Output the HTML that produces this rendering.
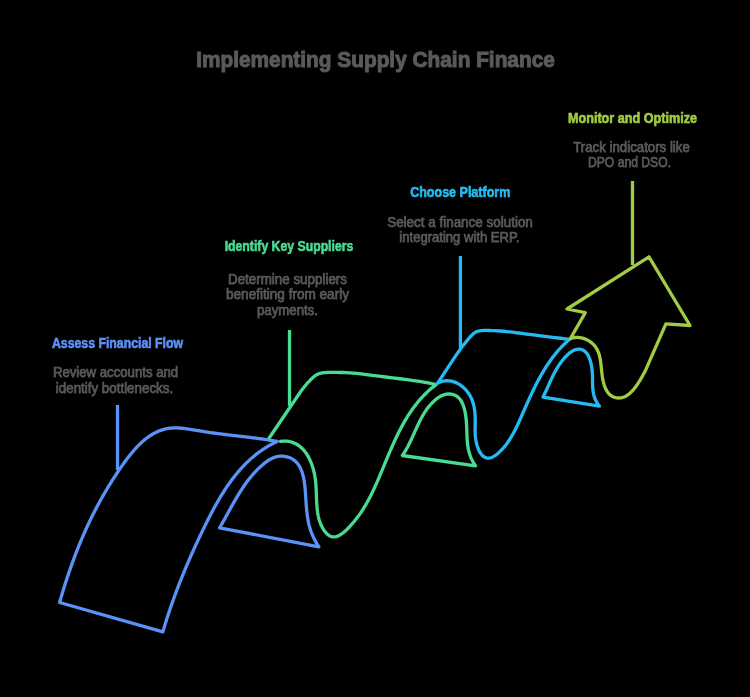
<!DOCTYPE html>
<html><head><meta charset="utf-8"><style>
html,body{margin:0;padding:0;background:#000;width:750px;height:697px;overflow:hidden}
svg{display:block;will-change:transform}
text{font-family:"Liberation Sans",sans-serif;text-anchor:middle}
</style></head><body>
<svg width="750" height="697" viewBox="0 0 750 697">
<rect width="750" height="697" fill="#000"/>
<g fill="none" stroke-width="3.3" stroke-linejoin="round" stroke-linecap="round">
<path stroke="#5b92f7" stroke-linecap="butt" d="M117.5 405 V470"/>
<path stroke="#5b92f7" d="M277.30 441.40 L275.69 441.12 L274.09 440.85 L272.50 440.59 L270.92 440.34 L269.35 440.10 L267.80 439.86 L266.25 439.62 L264.72 439.40 L263.19 439.18 L261.67 438.96 L260.16 438.75 L258.66 438.55 L257.16 438.35 L255.67 438.16 L254.19 437.96 L252.71 437.78 L251.24 437.59 L249.78 437.41 L248.32 437.23 L246.86 437.06 L245.40 436.89 L243.95 436.71 L242.51 436.54 L241.06 436.38 L239.62 436.21 L238.17 436.04 L236.73 435.87 L235.29 435.71 L233.85 435.54 L232.41 435.37 L230.96 435.20 L229.52 435.03 L228.07 434.86 L226.63 434.69 L225.18 434.51 L223.72 434.33 L222.26 434.15 L220.80 433.97 L219.34 433.78 L217.86 433.59 L216.39 433.39 L214.90 433.19 L213.41 432.99 L211.92 432.78 L210.42 432.56 L208.90 432.34 L207.38 432.11 L205.86 431.88 L204.32 431.64 L202.77 431.39 L201.22 431.13 L199.65 430.87 L198.07 430.60 L196.49 430.33 L194.90 430.06 L193.30 429.79 L191.70 429.53 L190.10 429.28 L188.50 429.04 L186.90 428.81 L185.30 428.60 L183.71 428.42 L182.12 428.26 L180.55 428.12 L178.98 428.02 L177.43 427.95 L175.88 427.92 L174.36 427.93 L172.85 427.98 L171.36 428.08 L169.88 428.22 L168.43 428.42 L167.00 428.66 L165.59 428.95 L164.20 429.29 L162.82 429.68 L161.47 430.10 L160.13 430.57 L158.81 431.08 L157.51 431.64 L156.22 432.23 L154.96 432.86 L153.71 433.53 L152.47 434.23 L151.26 434.97 L150.05 435.74 L148.87 436.55 L147.70 437.38 L146.54 438.25 L145.40 439.15 L144.27 440.07 L143.15 441.03 L142.05 442.01 L140.96 443.01 L139.89 444.04 L138.83 445.09 L137.78 446.16 L136.74 447.25 L135.71 448.37 L134.69 449.50 L133.69 450.64 L132.69 451.81 L131.71 452.99 L130.74 454.18 L129.77 455.38 L128.82 456.60 L127.87 457.83 L126.93 459.06 L126.00 460.31 L125.08 461.56 L124.17 462.82 L123.26 464.08 L122.36 465.35 L121.47 466.62 L120.58 467.89 L119.70 469.16 L118.83 470.44 L117.96 471.72 L117.10 473.00 L116.25 474.28 L115.40 475.56 L114.56 476.85 L113.72 478.14 L112.89 479.43 L112.07 480.72 L111.25 482.02 L110.44 483.32 L109.64 484.62 L108.84 485.92 L108.04 487.22 L107.26 488.53 L106.48 489.83 L105.70 491.14 L104.93 492.46 L104.17 493.77 L103.41 495.09 L102.66 496.40 L101.91 497.72 L101.17 499.05 L100.44 500.37 L99.71 501.70 L98.98 503.03 L98.27 504.36 L97.55 505.69 L96.85 507.03 L96.14 508.36 L95.45 509.70 L94.76 511.04 L94.07 512.39 L93.39 513.73 L92.71 515.08 L92.04 516.43 L91.38 517.78 L90.72 519.13 L90.06 520.49 L89.41 521.84 L88.77 523.20 L88.13 524.57 L87.50 525.93 L86.87 527.29 L86.24 528.66 L85.62 530.03 L85.01 531.40 L84.40 532.78 L83.79 534.15 L83.19 535.53 L82.59 536.91 L82.00 538.29 L81.41 539.68 L80.83 541.06 L80.25 542.45 L79.68 543.84 L79.11 545.23 L78.55 546.62 L77.99 548.02 L77.43 549.42 L76.88 550.82 L76.33 552.22 L75.79 553.62 L75.25 555.03 L74.71 556.44 L74.18 557.85 L73.66 559.26 L73.14 560.67 L72.62 562.09 L72.10 563.50 L71.59 564.92 L71.09 566.34 L70.58 567.77 L70.09 569.19 L69.59 570.62 L69.10 572.05 L68.61 573.48 L68.13 574.91 L67.65 576.35 L67.17 577.78 L66.70 579.22 L66.23 580.66 L65.77 582.10 L65.30 583.55 L64.84 585.00 L64.39 586.44 L63.94 587.89 L63.49 589.35 L63.04 590.80 L62.60 592.26 L62.16 593.71 L61.73 595.17 L61.30 596.63 L60.87 598.10 L60.44 599.56 L60.02 601.03 L59.60 602.50 L162.90 631.80 L163.32 630.35 L163.75 628.90 L164.18 627.46 L164.62 626.01 L165.06 624.56 L165.51 623.12 L165.95 621.68 L166.41 620.24 L166.86 618.80 L167.33 617.36 L167.79 615.92 L168.26 614.48 L168.73 613.05 L169.21 611.61 L169.69 610.18 L170.17 608.75 L170.66 607.32 L171.16 605.89 L171.65 604.46 L172.15 603.03 L172.66 601.60 L173.16 600.17 L173.68 598.75 L174.19 597.33 L174.71 595.90 L175.23 594.48 L175.76 593.06 L176.29 591.64 L176.82 590.22 L177.36 588.80 L177.90 587.38 L178.44 585.97 L178.99 584.55 L179.54 583.14 L180.10 581.72 L180.66 580.31 L181.22 578.90 L181.78 577.49 L182.35 576.08 L182.93 574.67 L183.50 573.26 L184.08 571.85 L184.66 570.45 L185.25 569.04 L185.84 567.64 L186.43 566.23 L187.02 564.83 L187.62 563.43 L188.22 562.03 L188.83 560.63 L189.44 559.23 L190.05 557.83 L190.66 556.43 L191.28 555.03 L191.90 553.64 L192.52 552.24 L193.15 550.85 L193.78 549.45 L194.41 548.06 L195.05 546.67 L195.69 545.28 L196.33 543.88 L196.97 542.49 L197.62 541.10 L198.27 539.71 L198.92 538.33 L199.58 536.94 L200.24 535.55 L200.90 534.17 L201.56 532.78 L202.23 531.40 L202.90 530.01 L203.57 528.63 L204.25 527.24 L204.92 525.86 L205.60 524.48 L206.29 523.10 L206.98 521.72 L207.67 520.35 L208.36 518.97 L209.06 517.60 L209.76 516.23 L210.47 514.87 L211.18 513.50 L211.90 512.14 L212.62 510.78 L213.35 509.43 L214.08 508.08 L214.82 506.73 L215.56 505.39 L216.31 504.05 L217.06 502.72 L217.82 501.40 L218.59 500.07 L219.36 498.76 L220.14 497.45 L220.93 496.14 L221.72 494.84 L222.52 493.55 L223.33 492.26 L224.15 490.98 L224.97 489.71 L225.80 488.45 L226.65 487.19 L227.49 485.94 L228.35 484.70 L229.22 483.46 L230.09 482.24 L230.98 481.02 L231.87 479.81 L232.77 478.61 L233.68 477.43 L234.61 476.25 L235.54 475.08 L236.48 473.92 L237.43 472.77 L238.40 471.63 L239.37 470.50 L240.35 469.38 L241.35 468.27 L242.36 467.18 L243.38 466.10 L244.41 465.02 L245.45 463.96 L246.50 462.92 L247.57 461.88 L248.65 460.86 L249.74 459.85 L250.84 458.86 L251.96 457.87 L253.09 456.90 L254.23 455.95 L255.39 455.01 L256.56 454.08 L257.75 453.17 L258.94 452.27 L260.16 451.39 L261.38 450.53 L262.63 449.67 L263.88 448.84 L265.15 448.02 L266.44 447.22 L267.74 446.43 L269.06 445.66 L270.39 444.91 L271.74 444.17 L273.11 443.45 L274.49 442.75 L275.89 442.06 L277.30 441.40 Z"/>
<path stroke="#5b92f7" d="M219.60 527.80 L318.90 546.80 L317.96 545.38 L317.06 543.97 L316.22 542.57 L315.42 541.18 L314.67 539.78 L313.96 538.40 L313.30 537.01 L312.67 535.63 L312.09 534.25 L311.54 532.87 L311.03 531.49 L310.56 530.12 L310.12 528.74 L309.71 527.35 L309.33 525.97 L308.97 524.58 L308.65 523.19 L308.35 521.79 L308.08 520.38 L307.82 518.97 L307.59 517.55 L307.38 516.12 L307.19 514.69 L307.01 513.24 L306.85 511.78 L306.70 510.31 L306.56 508.83 L306.43 507.33 L306.31 505.83 L306.19 504.30 L306.09 502.76 L305.98 501.21 L305.88 499.63 L305.78 498.04 L305.68 496.43 L305.57 494.81 L305.46 493.17 L305.34 491.52 L305.21 489.87 L305.06 488.22 L304.89 486.57 L304.71 484.92 L304.50 483.29 L304.27 481.67 L304.00 480.07 L303.71 478.48 L303.38 476.93 L303.01 475.40 L302.60 473.90 L302.15 472.44 L301.66 471.02 L301.11 469.64 L300.51 468.31 L299.86 467.03 L299.16 465.80 L298.39 464.63 L297.56 463.52 L296.66 462.48 L295.70 461.51 L294.66 460.61 L293.55 459.78 L292.37 459.04 L291.13 458.37 L289.84 457.79 L288.49 457.30 L287.11 456.89 L285.70 456.57 L284.26 456.34 L282.80 456.20 L281.33 456.16 L279.86 456.22 L278.39 456.38 L276.93 456.63 L275.50 457.00 L274.08 457.46 L272.69 458.02 L271.33 458.67 L269.98 459.39 L268.67 460.18 L267.37 461.04 L266.10 461.95 L264.85 462.91 L263.62 463.90 L262.42 464.92 L261.24 465.96 L260.08 467.02 L258.95 468.10 L257.83 469.19 L256.74 470.29 L255.66 471.41 L254.61 472.55 L253.57 473.69 L252.56 474.85 L251.56 476.02 L250.57 477.21 L249.61 478.40 L248.66 479.61 L247.72 480.83 L246.81 482.05 L245.90 483.29 L245.01 484.53 L244.13 485.79 L243.27 487.05 L242.41 488.32 L241.57 489.60 L240.74 490.89 L239.92 492.18 L239.11 493.47 L238.31 494.78 L237.52 496.08 L236.73 497.40 L235.95 498.71 L235.18 500.03 L234.42 501.36 L233.66 502.68 L232.91 504.01 L232.16 505.34 L231.42 506.67 L230.68 508.01 L229.94 509.34 L229.20 510.67 L228.47 512.01 L227.74 513.34 L227.01 514.67 L226.28 516.00 L225.54 517.32 L224.81 518.65 L224.08 519.97 L223.34 521.29 L222.60 522.60 L221.86 523.91 L221.11 525.21 L220.36 526.51 L219.60 527.80 Z"/>
<path stroke="#4adb92" stroke-linecap="butt" d="M289.5 330 V406"/>
<path stroke="#4adb92" d="M269.20 438.00 L296.30 398.00 L296.64 397.50 L297.31 396.50 L298.32 395.00 L299.68 393.00 L301.10 391.00 L302.60 389.00 L304.18 387.00 L305.82 385.00 L307.40 383.17 L308.90 381.51 L310.32 380.01 L311.68 378.69 L312.94 377.52 L314.11 376.52 L315.20 375.69 L316.20 375.01 L317.20 374.44 L318.20 373.98 L319.20 373.62 L320.20 373.38 L321.16 373.16 L322.07 372.97 L322.94 372.81 L323.76 372.69 L325.01 372.59 L326.67 372.51 L328.75 372.46 L331.25 372.44 L333.91 372.43 L336.74 372.44 L339.73 372.48 L342.88 372.52 L346.16 372.65 L349.57 372.85 L353.11 373.12 L356.79 373.47 L361.19 373.95 L366.33 374.55 L372.20 375.28 L378.80 376.12 L385.58 376.99 L392.54 377.86 L399.69 378.75 L407.01 379.65 L413.65 380.54 L419.60 381.43 L424.86 382.31 L429.44 383.19 L432.87 383.84 L435.16 384.28 L436.30 384.50 L435.06 385.44 L433.83 386.39 L432.63 387.35 L431.44 388.34 L430.28 389.33 L429.13 390.34 L428.00 391.37 L426.90 392.41 L425.80 393.46 L424.73 394.53 L423.67 395.61 L422.63 396.70 L421.61 397.81 L420.60 398.92 L419.61 400.05 L418.64 401.19 L417.68 402.35 L416.74 403.51 L415.81 404.69 L414.89 405.87 L413.99 407.07 L413.10 408.28 L412.23 409.49 L411.37 410.72 L410.52 411.96 L409.69 413.20 L408.87 414.46 L408.06 415.72 L407.26 417.00 L406.47 418.28 L405.70 419.56 L404.93 420.86 L404.18 422.16 L403.44 423.48 L402.70 424.79 L401.98 426.12 L401.26 427.45 L400.56 428.79 L399.86 430.13 L399.17 431.48 L398.49 432.83 L397.81 434.19 L397.15 435.56 L396.49 436.93 L395.83 438.30 L395.19 439.68 L394.55 441.06 L393.91 442.45 L393.28 443.84 L392.66 445.23 L392.04 446.62 L391.43 448.02 L390.82 449.42 L390.21 450.82 L389.61 452.22 L389.01 453.63 L388.42 455.04 L387.82 456.44 L387.23 457.85 L386.64 459.26 L386.06 460.67 L385.47 462.08 L384.89 463.49 L384.30 464.90 L383.72 466.30 L383.14 467.71 L382.56 469.12 L381.97 470.52 L381.39 471.92 L380.80 473.32 L380.22 474.72 L379.63 476.12 L379.04 477.51 L378.45 478.90 L377.85 480.29 L377.25 481.67 L376.64 483.05 L376.03 484.43 L375.41 485.80 L374.79 487.17 L374.16 488.54 L373.52 489.90 L372.88 491.26 L372.22 492.62 L371.56 493.97 L370.89 495.31 L370.21 496.65 L369.51 497.99 L368.81 499.32 L368.09 500.65 L367.36 501.97 L366.62 503.28 L365.86 504.59 L365.09 505.90 L364.30 507.20 L363.50 508.49 L362.68 509.78 L361.85 511.06 L361.00 512.33 L360.13 513.60 L359.25 514.86 L358.34 516.11 L357.42 517.36 L356.48 518.60 L355.51 519.83 L354.53 521.06 L353.52 522.27 L352.49 523.48 L351.44 524.69 L350.37 525.88 L349.27 527.07 L348.15 528.23 L347.01 529.37 L345.85 530.48 L344.68 531.53 L343.50 532.52 L342.31 533.44 L341.12 534.27 L339.91 535.02 L338.71 535.65 L337.51 536.18 L336.31 536.57 L335.12 536.83 L333.94 536.94 L332.77 536.89 L331.61 536.67 L330.47 536.27 L329.35 535.68 L328.25 534.93 L327.18 534.01 L326.15 532.97 L325.16 531.80 L324.22 530.53 L323.33 529.18 L322.50 527.76 L321.73 526.30 L321.03 524.81 L320.40 523.30 L319.84 521.77 L319.34 520.23 L318.90 518.69 L318.51 517.13 L318.18 515.57 L317.89 514.01 L317.63 512.45 L317.42 510.89 L317.24 509.33 L317.08 507.78 L316.95 506.23 L316.84 504.70 L316.74 503.18 L316.66 501.67 L316.58 500.17 L316.52 498.67 L316.46 497.18 L316.41 495.69 L316.36 494.21 L316.30 492.74 L316.24 491.26 L316.18 489.79 L316.10 488.32 L316.02 486.85 L315.92 485.37 L315.80 483.90 L315.67 482.42 L315.51 480.94 L315.32 479.45 L315.12 477.96 L314.88 476.46 L314.61 474.95 L314.30 473.44 L313.97 471.92 L313.60 470.41 L313.20 468.91 L312.76 467.41 L312.28 465.92 L311.78 464.44 L311.23 462.99 L310.65 461.55 L310.02 460.13 L309.37 458.75 L308.67 457.39 L307.93 456.06 L307.15 454.77 L306.33 453.52 L305.47 452.31 L304.57 451.14 L303.63 450.02 L302.64 448.96 L301.61 447.94 L300.53 446.99 L299.41 446.09 L298.25 445.26 L297.04 444.49 L295.78 443.79 L294.47 443.17 L293.12 442.62 L291.72 442.14 L290.27 441.75 L288.77 441.45 L287.22 441.23 L285.61 441.10 L283.96 441.07 L282.26 441.14 L280.50 441.30"/>
<path stroke="#4adb92" d="M402.30 455.50 L475.50 465.80 L474.54 464.39 L473.65 462.98 L472.84 461.57 L472.09 460.16 L471.42 458.75 L470.81 457.33 L470.26 455.92 L469.76 454.51 L469.32 453.09 L468.93 451.67 L468.59 450.25 L468.29 448.83 L468.03 447.40 L467.81 445.96 L467.62 444.52 L467.46 443.08 L467.32 441.62 L467.21 440.17 L467.12 438.70 L467.04 437.23 L466.97 435.74 L466.92 434.25 L466.86 432.75 L466.81 431.25 L466.76 429.73 L466.71 428.20 L466.64 426.65 L466.57 425.10 L466.47 423.54 L466.36 421.96 L466.23 420.37 L466.07 418.76 L465.89 417.15 L465.67 415.52 L465.41 413.88 L465.11 412.26 L464.78 410.65 L464.39 409.06 L463.96 407.51 L463.47 406.00 L462.92 404.54 L462.32 403.14 L461.65 401.82 L460.91 400.56 L460.11 399.40 L459.23 398.33 L458.27 397.37 L457.23 396.52 L456.11 395.79 L454.91 395.19 L453.65 394.70 L452.34 394.35 L450.98 394.11 L449.60 394.00 L448.19 394.01 L446.77 394.15 L445.35 394.41 L443.95 394.80 L442.56 395.30 L441.20 395.93 L439.87 396.65 L438.56 397.47 L437.29 398.36 L436.05 399.32 L434.85 400.34 L433.68 401.39 L432.56 402.48 L431.48 403.60 L430.43 404.75 L429.42 405.92 L428.45 407.12 L427.51 408.34 L426.60 409.59 L425.72 410.85 L424.87 412.14 L424.04 413.44 L423.24 414.76 L422.46 416.10 L421.71 417.45 L420.97 418.82 L420.25 420.19 L419.55 421.58 L418.86 422.97 L418.18 424.37 L417.52 425.78 L416.86 427.19 L416.21 428.61 L415.57 430.02 L414.93 431.44 L414.30 432.86 L413.67 434.27 L413.03 435.69 L412.40 437.09 L411.76 438.49 L411.11 439.89 L410.46 441.27 L409.79 442.64 L409.12 444.00 L408.43 445.35 L407.74 446.69 L407.02 448.00 L406.29 449.30 L405.53 450.59 L404.76 451.85 L403.97 453.09 L403.15 454.31 L402.30 455.50 Z"/>
<path stroke="#25bbf2" stroke-linecap="butt" d="M460.4 256 V348"/>
<path stroke="#25bbf2" d="M437.50 383.30 L455.80 355.60 L456.15 355.10 L456.85 354.10 L457.90 352.60 L459.30 350.60 L460.75 348.60 L462.25 346.60 L463.80 344.60 L465.40 342.60 L466.80 340.88 L468.00 339.43 L469.00 338.25 L469.80 337.35 L470.60 336.47 L471.40 335.62 L472.20 334.80 L473.00 334.00 L473.85 333.29 L474.75 332.66 L475.70 332.12 L476.70 331.67 L477.69 331.31 L478.66 331.02 L479.62 330.81 L480.58 330.69 L481.60 330.59 L482.70 330.51 L483.88 330.46 L485.12 330.44 L486.81 330.44 L488.94 330.48 L491.50 330.55 L494.50 330.65 L497.50 330.80 L500.50 331.00 L503.50 331.25 L506.50 331.55 L509.50 331.88 L512.50 332.22 L515.50 332.60 L518.50 333.00 L522.18 333.48 L526.54 334.04 L531.59 334.69 L537.31 335.41 L543.07 336.13 L548.88 336.84 L554.71 337.55 L560.59 338.25 L564.99 338.78 L567.93 339.12 L569.40 339.30 L568.24 340.33 L567.10 341.37 L565.97 342.43 L564.87 343.49 L563.78 344.57 L562.71 345.66 L561.65 346.76 L560.62 347.87 L559.60 348.99 L558.59 350.12 L557.61 351.26 L556.63 352.41 L555.68 353.57 L554.73 354.75 L553.80 355.93 L552.89 357.12 L551.99 358.32 L551.10 359.52 L550.23 360.74 L549.37 361.97 L548.52 363.20 L547.69 364.44 L546.86 365.69 L546.05 366.95 L545.25 368.22 L544.46 369.49 L543.68 370.77 L542.91 372.06 L542.15 373.35 L541.39 374.65 L540.65 375.96 L539.92 377.27 L539.20 378.59 L538.48 379.92 L537.77 381.25 L537.07 382.59 L536.38 383.93 L535.69 385.28 L535.01 386.63 L534.34 387.99 L533.67 389.35 L533.00 390.72 L532.35 392.09 L531.69 393.47 L531.04 394.85 L530.40 396.23 L529.76 397.62 L529.12 399.01 L528.49 400.40 L527.86 401.80 L527.23 403.20 L526.60 404.60 L525.98 406.01 L525.35 407.41 L524.73 408.82 L524.11 410.23 L523.49 411.65 L522.87 413.06 L522.25 414.48 L521.63 415.89 L521.00 417.31 L520.38 418.73 L519.75 420.14 L519.11 421.55 L518.47 422.96 L517.82 424.36 L517.16 425.76 L516.49 427.15 L515.81 428.54 L515.12 429.91 L514.42 431.28 L513.70 432.63 L512.96 433.98 L512.21 435.31 L511.44 436.63 L510.65 437.94 L509.84 439.23 L509.01 440.50 L508.15 441.76 L507.27 443.00 L506.37 444.23 L505.44 445.43 L504.48 446.61 L503.50 447.77 L502.48 448.91 L501.44 450.02 L500.36 451.11 L499.25 452.18 L498.10 453.21 L496.93 454.19 L495.74 455.11 L494.53 455.94 L493.31 456.66 L492.09 457.27 L490.86 457.73 L489.65 458.03 L488.44 458.16 L487.25 458.09 L486.09 457.83 L484.98 457.40 L483.91 456.78 L482.90 455.99 L481.95 455.04 L481.06 453.96 L480.24 452.74 L479.48 451.41 L478.78 449.99 L478.14 448.49 L477.56 446.92 L477.05 445.30 L476.60 443.65 L476.21 441.98 L475.89 440.30 L475.63 438.64 L475.43 437.00 L475.29 435.39 L475.20 433.80 L475.14 432.23 L475.12 430.68 L475.13 429.14 L475.15 427.61 L475.18 426.08 L475.21 424.55 L475.23 423.03 L475.24 421.50 L475.23 419.97 L475.21 418.44 L475.16 416.92 L475.09 415.40 L475.00 413.88 L474.87 412.37 L474.71 410.87 L474.51 409.38 L474.27 407.90 L473.99 406.43 L473.66 404.97 L473.28 403.53 L472.85 402.11 L472.37 400.71 L471.83 399.32 L471.22 397.96 L470.56 396.62 L469.82 395.30 L469.02 394.01 L468.16 392.75 L467.23 391.53 L466.25 390.35 L465.22 389.22 L464.13 388.14 L463.00 387.11 L461.82 386.14 L460.59 385.24 L459.33 384.41 L458.03 383.65 L456.69 382.97 L455.32 382.37 L453.93 381.86 L452.51 381.44 L451.06 381.11 L449.60 380.89 L448.12 380.77 L446.62 380.77 L445.11 380.87 L443.60 381.10 L442.07 381.45 L440.55 381.93 L439.02 382.55 L437.50 383.30"/>
<path stroke="#25bbf2" d="M543.00 397.10 L599.40 406.20 L598.34 404.76 L597.39 403.32 L596.56 401.89 L595.82 400.47 L595.19 399.06 L594.64 397.64 L594.18 396.23 L593.80 394.82 L593.48 393.40 L593.22 391.98 L593.02 390.56 L592.86 389.13 L592.75 387.69 L592.67 386.25 L592.62 384.79 L592.58 383.31 L592.56 381.83 L592.54 380.33 L592.52 378.81 L592.50 377.27 L592.45 375.71 L592.39 374.13 L592.29 372.52 L592.16 370.89 L591.98 369.24 L591.76 367.57 L591.49 365.89 L591.16 364.23 L590.78 362.60 L590.35 361.00 L589.85 359.45 L589.29 357.96 L588.67 356.54 L587.98 355.21 L587.21 353.98 L586.38 352.87 L585.47 351.88 L584.47 351.02 L583.40 350.32 L582.24 349.78 L581.01 349.41 L579.71 349.21 L578.37 349.19 L577.01 349.33 L575.64 349.63 L574.28 350.11 L572.95 350.74 L571.64 351.50 L570.35 352.39 L569.10 353.38 L567.88 354.45 L566.70 355.59 L565.55 356.77 L564.45 357.98 L563.40 359.21 L562.38 360.46 L561.40 361.72 L560.47 363.00 L559.56 364.29 L558.69 365.59 L557.85 366.90 L557.05 368.22 L556.26 369.56 L555.51 370.90 L554.77 372.25 L554.06 373.61 L553.36 374.98 L552.68 376.35 L552.02 377.73 L551.36 379.11 L550.72 380.49 L550.08 381.88 L549.45 383.27 L548.83 384.66 L548.20 386.05 L547.58 387.44 L546.95 388.83 L546.31 390.22 L545.67 391.61 L545.02 392.99 L544.36 394.36 L543.69 395.73 L543.00 397.10 Z"/>
<path stroke="#a2cc43" stroke-linecap="butt" d="M632.5 181 V265"/>
<path stroke="#a2cc43" d="M570.30 338.70 L585.30 312.60 L567.00 309.00 L649.00 256.80 L690.00 325.50 L665.90 323.80 L645.30 370.80 L644.71 371.87 L644.09 373.01 L643.42 374.23 L642.72 375.51 L641.98 376.84 L641.20 378.21 L640.38 379.61 L639.53 381.03 L638.63 382.45 L637.71 383.88 L636.74 385.29 L635.74 386.68 L634.71 388.04 L633.64 389.35 L632.54 390.61 L631.41 391.80 L630.24 392.92 L629.04 393.95 L627.81 394.89 L626.54 395.72 L625.25 396.43 L623.92 397.02 L622.56 397.47 L621.19 397.79 L619.80 397.96 L618.41 398.00 L617.04 397.90 L615.69 397.67 L614.38 397.31 L613.12 396.83 L611.92 396.21 L610.80 395.48 L609.76 394.63 L608.80 393.66 L607.93 392.59 L607.12 391.42 L606.39 390.17 L605.72 388.84 L605.11 387.43 L604.57 385.97 L604.08 384.46 L603.64 382.90 L603.25 381.31 L602.90 379.68 L602.60 378.05 L602.33 376.40 L602.10 374.75 L601.89 373.10 L601.70 371.46 L601.53 369.83 L601.36 368.21 L601.20 366.60 L601.03 365.01 L600.85 363.43 L600.65 361.88 L600.42 360.34 L600.16 358.83 L599.87 357.35 L599.52 355.89 L599.13 354.46 L598.67 353.07 L598.16 351.71 L597.56 350.38 L596.89 349.10 L596.14 347.85 L595.29 346.65 L594.35 345.49 L593.31 344.39 L592.19 343.34 L591.00 342.36 L589.74 341.45 L588.41 340.61 L587.03 339.86 L585.60 339.19 L584.13 338.62 L582.63 338.14 L581.10 337.78 L579.56 337.52 L578.00 337.39 L576.44 337.38 L574.88 337.50 L573.33 337.75 L571.80 338.15 L570.30 338.70"/>
</g>
<text x="375.50" y="66.70" fill="#5a5a5a" font-size="22" font-weight="bold" textLength="358.69" lengthAdjust="spacingAndGlyphs" stroke="#5a5a5a" stroke-width="1.0">Implementing Supply Chain Finance</text>
<text x="117.50" y="347.60" fill="#5b92f7" font-size="14" font-weight="bold" textLength="131.07" lengthAdjust="spacingAndGlyphs" stroke="#5b92f7" stroke-width="0.6">Assess Financial Flow</text>
<text x="115.50" y="376.90" fill="#5a5a5a" font-size="14.5" font-weight="normal" textLength="125.25" lengthAdjust="spacingAndGlyphs" stroke="#5a5a5a" stroke-width="0.75">Review accounts and</text>
<text x="114.50" y="392.50" fill="#5a5a5a" font-size="14.5" font-weight="normal" textLength="117.33" lengthAdjust="spacingAndGlyphs" stroke="#5a5a5a" stroke-width="0.75">identify bottlenecks.</text>
<text x="289.00" y="250.60" fill="#4adb92" font-size="14" font-weight="bold" textLength="128.64" lengthAdjust="spacingAndGlyphs" stroke="#4adb92" stroke-width="0.6">Identify Key Suppliers</text>
<text x="287.50" y="283.60" fill="#5a5a5a" font-size="14.5" font-weight="normal" textLength="118.96" lengthAdjust="spacingAndGlyphs" stroke="#5a5a5a" stroke-width="0.75">Determine suppliers</text>
<text x="287.50" y="299.30" fill="#5a5a5a" font-size="14.5" font-weight="normal" textLength="123.02" lengthAdjust="spacingAndGlyphs" stroke="#5a5a5a" stroke-width="0.75">benefiting from early</text>
<text x="287.50" y="315.10" fill="#5a5a5a" font-size="14.5" font-weight="normal" textLength="60.91" lengthAdjust="spacingAndGlyphs" stroke="#5a5a5a" stroke-width="0.75">payments.</text>
<text x="460.25" y="197.30" fill="#25bbf2" font-size="14" font-weight="bold" textLength="100.22" lengthAdjust="spacingAndGlyphs" stroke="#25bbf2" stroke-width="0.6">Choose Platform</text>
<text x="460.00" y="226.50" fill="#5a5a5a" font-size="14.5" font-weight="normal" textLength="145.65" lengthAdjust="spacingAndGlyphs" stroke="#5a5a5a" stroke-width="0.75">Select a finance solution</text>
<text x="459.50" y="242.10" fill="#5a5a5a" font-size="14.5" font-weight="normal" textLength="120.29" lengthAdjust="spacingAndGlyphs" stroke="#5a5a5a" stroke-width="0.75">integrating with ERP.</text>
<text x="632.50" y="122.60" fill="#a2cc43" font-size="14" font-weight="bold" textLength="129.10" lengthAdjust="spacingAndGlyphs" stroke="#a2cc43" stroke-width="0.6">Monitor and Optimize</text>
<text x="631.50" y="151.50" fill="#5a5a5a" font-size="14.5" font-weight="normal" textLength="116.64" lengthAdjust="spacingAndGlyphs" stroke="#5a5a5a" stroke-width="0.75">Track indicators like</text>
<text x="629.50" y="167.30" fill="#5a5a5a" font-size="14.5" font-weight="normal" textLength="83.10" lengthAdjust="spacingAndGlyphs" stroke="#5a5a5a" stroke-width="0.75">DPO and DSO.</text>
</svg>
</body></html>
